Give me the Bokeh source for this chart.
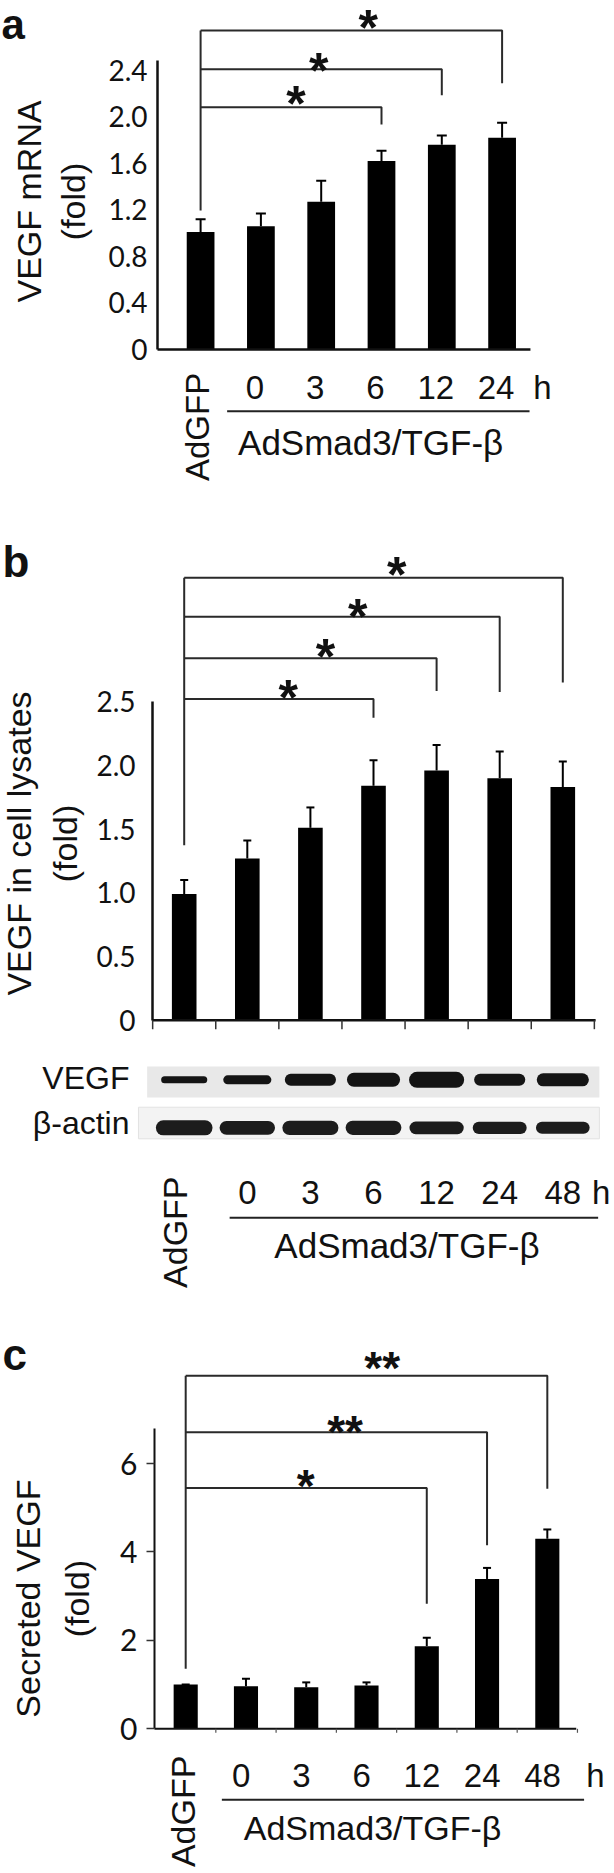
import math
from bokeh.plotting import figure
from bokeh.models import Range1d, FixedTicker, Whisker, TeeHead, ColumnDataSource
from bokeh.layouts import column
from bokeh.embed import file_html
from bokeh.resources import INLINE
from bokeh.core.properties import value

# ------------------------------------------------------------------ data
control_label = "AdGFP"
treatment_label = "AdSmad3/TGF-\u03b2"
hour_unit = "h"

# panel a : VEGF mRNA (fold)
a_times = ["0", "3", "6", "12", "24"]
a_mean = [1.01, 1.06, 1.27, 1.62, 1.76, 1.82]
a_err = [0.11, 0.11, 0.18, 0.09, 0.08, 0.13]
a_sig_target = [3, 4, 5]
a_sig_text = ["*", "*", "*"]
a_ticks = [0, 0.4, 0.8, 1.2, 1.6, 2.0, 2.4]
a_tick_labels = ["0", "0.4", "0.8", "1.2", "1.6", "2.0", "2.4"]

# panel b : VEGF in cell lysates (fold) + western blot
b_times = ["0", "3", "6", "12", "24", "48"]
b_mean = [0.99, 1.27, 1.51, 1.84, 1.96, 1.90, 1.83]
b_err = [0.11, 0.14, 0.16, 0.20, 0.20, 0.21, 0.20]
b_sig_target = [3, 4, 5, 6]
b_sig_text = ["*", "*", "*", "*"]
b_ticks = [0, 0.5, 1.0, 1.5, 2.0, 2.5]
b_tick_labels = ["0", "0.5", "1.0", "1.5", "2.0", "2.5"]
blot_rows = ["VEGF", "\u03b2-actin"]
vegf_band = [0.1, 0.3, 0.6, 0.8, 1.0, 0.6, 0.7]
actin_band = [1.0, 0.8, 0.9, 0.85, 0.6, 0.55, 0.5]

# panel c : Secreted VEGF (fold)
c_times = ["0", "3", "6", "12", "24", "48"]
c_mean = [1.00, 0.96, 0.94, 0.98, 1.87, 3.39, 4.30]
c_err = [0.00, 0.17, 0.11, 0.07, 0.19, 0.25, 0.21]
c_sig_target = [4, 5, 6]
c_sig_text = ["*", "**", "**"]
c_ticks = [0, 2, 4, 6]
c_tick_labels = ["0", "2", "4", "6"]

# ------------------------------------------------------------------ style
INK = "#111111"
SANS = "Liberation Sans"
TICKF = "Lato"
W = 614


def base_fig(height, xr, yr):
    p = figure(width=W, height=height, x_range=Range1d(*xr), y_range=Range1d(*yr),
               output_backend="svg", toolbar_location=None, x_axis_type=None,
               min_border_left=0, min_border_right=0,
               min_border_top=0, min_border_bottom=0)
    p.outline_line_color = None
    p.grid.visible = False
    p.background_fill_color = "white"
    p.border_fill_color = "white"
    return p


def style_yaxis(p, axis_x, ticks, labels, top, fs, standoff, lw, tick_out=0):
    ax = p.yaxis[0]
    ax.fixed_location = axis_x
    ax.ticker = FixedTicker(ticks=ticks)
    ax.bounds = (0, top)
    ax.axis_line_width = lw
    ax.axis_line_color = INK
    if tick_out:
        ax.major_tick_line_color = "#333333"
        ax.major_tick_line_width = 1.5
        ax.major_tick_out = tick_out
        ax.major_tick_in = 0
    else:
        ax.major_tick_line_color = None
        ax.major_tick_out = 0
        ax.major_tick_in = 0
    ax.minor_tick_line_color = None
    ax.major_label_text_font = TICKF
    ax.major_label_text_font_size = fs
    ax.major_label_text_color = INK
    ax.major_label_standoff = standoff
    ax.major_label_overrides = {t: l for t, l in zip(ticks, labels)}


def txt(p, x, y, s, fs, align="center", angle=0.0, bold=False):
    p.text(x=x, y=y, text=s, angle=angle, text_font=value(SANS),
           text_font_style="bold" if bold else "normal", text_font_size=fs,
           text_align=align, text_baseline="middle", text_color=INK)


def draw_bars(p, mean, err, width, tee):
    idx = list(range(len(mean)))
    p.vbar(x=idx, top=mean, width=width, fill_color="black", line_color=None)
    src = ColumnDataSource(dict(x=idx, lo=mean, hi=[m + e for m, e in zip(mean, err)]))
    p.add_layout(Whisker(base="x", lower="lo", upper="hi", source=src, dimension="height",
                         line_color="black", line_width=2, lower_head=None,
                         upper_head=TeeHead(size=tee, line_color="black", line_width=2)))
    return idx


def draw_brackets(p, targets, heights, drops, start, star_x, star_y, texts, star_fs, dy):
    xs = [[0, t, t] for t in targets]
    ys = [[h, h, d] for h, d in zip(heights, drops)]
    p.multi_line(xs=xs, ys=ys, line_color="#2a2a2a", line_width=2)
    p.segment(x0=[0], y0=[start], x1=[0], y1=[max(heights)], line_color="#2a2a2a", line_width=2)
    fsz = float(star_fs.replace("px", ""))
    anchor = [y - 0.26 * fsz / dy for y in star_y]
    txt(p, star_x, anchor, texts, star_fs, bold=True)


def draw_categories(p, times, num_off, num_y, num_fs, h_off,
                    gfp_x, gfp_y, gfp_fs, line_y, line_x0, line_x1,
                    treat_x, treat_y, treat_fs):
    n = len(times)
    txt(p, [i + 1 + num_off for i in range(n)], [num_y] * n, times, num_fs)
    txt(p, [n + h_off], [num_y], [hour_unit], num_fs)
    txt(p, [gfp_x], [gfp_y], [control_label], gfp_fs, angle=math.pi / 2)
    p.segment(x0=[line_x0], y0=[line_y], x1=[line_x1], y1=[line_y],
              line_color="#222222", line_width=2)
    txt(p, [treat_x], [treat_y], [treatment_label], treat_fs)


def ylabel(p, lines, xs, yc, fs):
    txt(p, xs, [yc] * len(lines), lines, fs, angle=math.pi / 2)


# ------------------------------------------------------------------ panel a
dy_a = 116.3
pa = base_fig(514, (-3.3184, 6.8640), (-1.4187, 3.0009))
style_yaxis(pa, -0.7148, a_ticks, a_tick_labels, 2.485, "28px", 10, 2.5)
draw_bars(pa, a_mean, a_err, 0.46, 10)
pa.segment(x0=[-0.7148], y0=[0], x1=[len(a_mean) - 0.53], y1=[0], line_color=INK, line_width=2.5)
draw_brackets(pa, a_sig_target, [2.083, 2.41, 2.743], [1.935, 2.187, 2.29], 1.195,
              [1.58, 1.96, 2.78], [2.22, 2.51, 2.876], a_sig_text, "50px", dy_a)
draw_categories(pa, a_times, -0.1, -0.330, "33px", 0.67,
                -0.056, -0.666, "33px", -0.531, 0.44, 5.455, 2.82, -0.800, "35px")
ylabel(pa, ["VEGF mRNA", "(fold)"], [-2.854, -2.108], 1.273, "34px")
txt(pa, [-3.30], [2.795], ["a"], "42px", align="left", bold=True)

# ------------------------------------------------------------------ panel b
dy_b = 127.4
pb = base_fig(786, (-2.9113, 6.8193), (-2.2002, 3.9694))
style_yaxis(pb, -0.5024, b_ticks, b_tick_labels, 2.5, "28px", 17, 2.5)
nb = len(b_mean)
ib = list(range(nb))
# blot strips and bands
pb.quad(left=[-0.587], right=[6.58], top=[-0.363], bottom=[-0.607],
        fill_color="#e8e8e8", line_color=None)
pb.quad(left=[-0.725], right=[6.58], top=[-0.683], bottom=[-0.931],
        fill_color="#f3f3f3", line_color="#e2e2e2", line_width=1)
vsrc = ColumnDataSource(dict(x0=[i - 0.31 for i in ib], x1=[i + 0.31 for i in ib],
                             y=[-0.468] * nb, lw=[6 + 10 * v for v in vegf_band]))
pb.segment(x0="x0", x1="x1", y0="y", y1="y", line_width="lw", line_cap="round",
           line_color="#141414", source=vsrc)
asrc = ColumnDataSource(dict(x0=[i - 0.33 for i in ib], x1=[i + 0.33 for i in ib],
                             y=[-0.845] * nb, lw=[9 + 6 * v for v in actin_band]))
pb.segment(x0="x0", x1="x1", y0="y", y1="y", line_width="lw", line_cap="round",
           line_color="#1c1c1c", source=asrc)
txt(pb, [-0.867, -0.867], [-0.455, -0.81], blot_rows, "32px", align="right")
draw_bars(pb, b_mean, b_err, 0.39, 8)
pb.segment(x0=[-0.5024], y0=[0], x1=[nb - 0.48], y1=[0], line_color=INK, line_width=2.5)
bnd = [i - 0.5 for i in range(nb + 1)]
pb.segment(x0=bnd, y0=[0] * len(bnd), x1=bnd, y1=[-9 / dy_b] * len(bnd),
           line_color="#333333", line_width=1.5)
draw_brackets(pb, b_sig_target, [2.522, 2.841, 3.166, 3.473], [2.374, 2.584, 2.576, 2.651],
              1.373, [1.65, 2.24, 2.75, 3.37], [2.63, 2.955, 3.265, 3.598], b_sig_text,
              "50px", dy_b)
draw_categories(pb, b_times, 0.0, -1.350, "33px", 0.61,
                -0.149, -1.664, "34px", -1.551, 0.72, 6.56, 3.53, -1.768, "35px")
ylabel(pb, ["VEGF in cell lysates", "(fold)"], [-2.617, -1.887], 1.387, "34px")
txt(pb, [-2.88], [3.602], ["b"], "44px", align="left", bold=True)

# ------------------------------------------------------------------ panel c
dy_c = 44.2
pc = base_fig(573, (-3.0728, 7.1147), (-3.2738, 9.6900))
style_yaxis(pc, -0.5177, c_ticks, c_tick_labels, 6.8, "30px", 9, 2, tick_out=8)
nc = len(c_mean)
draw_bars(pc, c_mean, c_err, 0.40, 8)
pc.segment(x0=[-0.5177], y0=[0], x1=[nc - 0.52], y1=[0], line_color=INK, line_width=2)
bndc = [i + 0.5 for i in range(nc)]
pc.segment(x0=bndc, y0=[0] * nc, x1=bndc, y1=[-4 / dy_c] * nc,
           line_color="#555555", line_width=1.2)
draw_brackets(pc, c_sig_target, [5.45, 6.71, 7.99], [2.83, 4.15, 5.43], 1.36,
              [1.99, 2.645, 3.26], [5.77, 6.98, 8.44], c_sig_text, "46px", dy_c)
draw_categories(pc, c_times, -0.08, -1.057, "33px", 0.8,
                -0.053, -1.867, "34px", -1.606, 0.60, 6.61, 3.10, -2.244, "34px")
ylabel(pc, ["Secreted VEGF", "(fold)"], [-2.618, -1.807], 2.946, "34px")
txt(pc, [-3.04], [8.459], ["c"], "44px", align="left", bold=True)

layout = column(pa, pb, pc)
open("out.html", "w").write(file_html(layout, INLINE))
